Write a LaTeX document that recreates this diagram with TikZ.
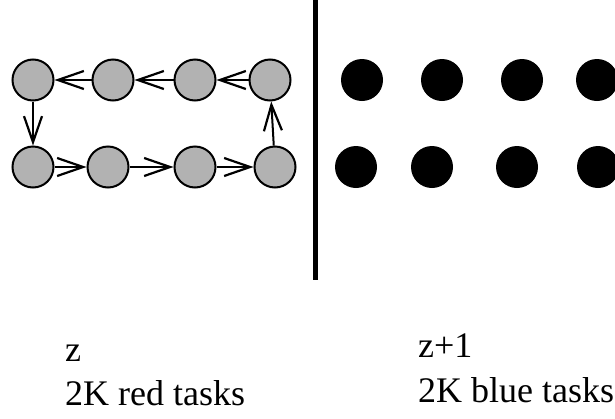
\documentclass[tikz,border=0pt]{standalone}
\usepackage{fontspec}
\setmainfont{Liberation Serif}
\usetikzlibrary{arrows.meta}
\begin{document}
\begin{tikzpicture}[x=1pt,y=-1pt,
  redtask/.style={circle,draw,line width=2pt,fill=gray!60,minimum size=41pt,inner sep=0pt},
  bluetask/.style={circle,fill=black,minimum size=42pt,inner sep=0pt},
  flow/.style={line width=2pt,-{Straight Barb[length=26pt,width=18pt,line width=2.2pt]}},
  lbl/.style={anchor=base west,inner sep=0pt,font=\fontsize{36}{43}\selectfont}]
\useasboundingbox (0,0) rectangle (615,418);
% red tasks (ring)
\node[redtask] (g1) at (33,80) {};
\node[redtask] (g2) at (113,80) {};
\node[redtask] (g3) at (195,80) {};
\node[redtask] (g4) at (270,80) {};
\node[redtask] (g5) at (33,167) {};
\node[redtask] (g6) at (108,167) {};
\node[redtask] (g7) at (195,167) {};
\node[redtask] (g8) at (275,167) {};
\draw[flow] (g4) -- (g3);
\draw[flow] (g3) -- (g2);
\draw[flow] (g2) -- (g1);
\draw[flow] (g1) -- (g5);
\draw[flow] (g5) -- (g6);
\draw[flow] (g6) -- (g7);
\draw[flow] (g7) -- (g8);
\draw[flow] (g8) -- (g4);
% separator
\draw[line width=5pt] (315,0) -- (315,280);
% blue tasks
\node[bluetask] (b1) at (362,80) {};
\node[bluetask] (b2) at (442,80) {};
\node[bluetask] (b3) at (522,80) {};
\node[bluetask] (b4) at (597,80) {};
\node[bluetask] (b5) at (356,167) {};
\node[bluetask] (b6) at (432,167) {};
\node[bluetask] (b7) at (517,167) {};
\node[bluetask] (b8) at (598,167) {};
% labels
\node[lbl] (zl) at (65,361) {z};
\node[lbl] (redl) at (65,405) {2K red tasks};
\node[lbl] (zr) at (418,357) {z+1};
\node[lbl] (bluel) at (418,402) {2K blue tasks};
\end{tikzpicture}
\end{document}
